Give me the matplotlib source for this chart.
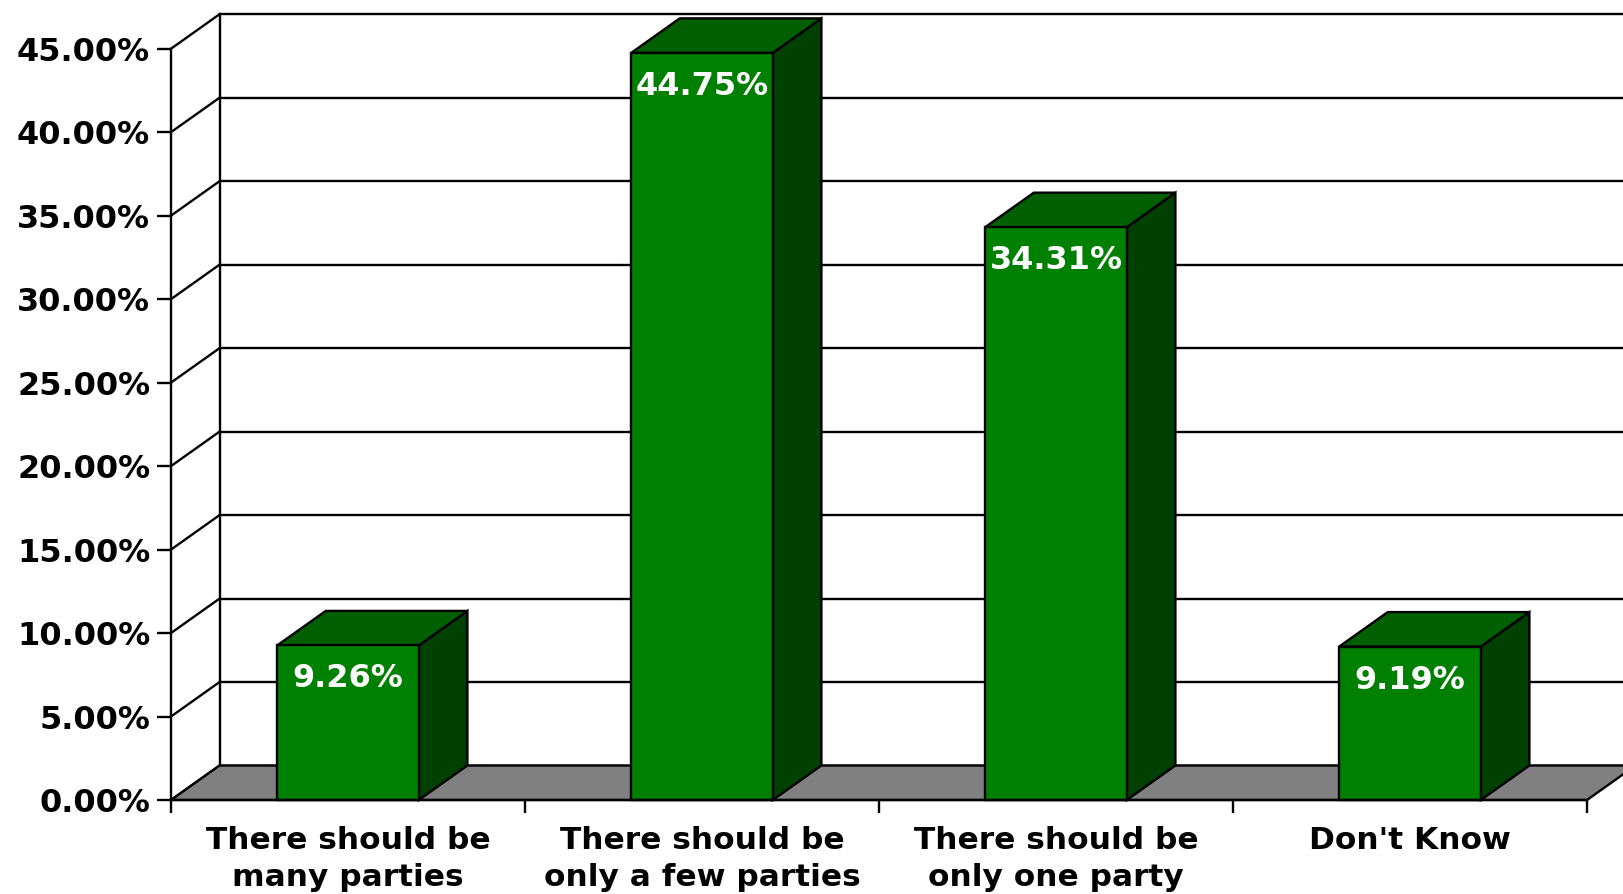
import matplotlib
matplotlib.use("Agg")
import matplotlib.pyplot as plt
from matplotlib.patches import Polygon
from matplotlib.ticker import FuncFormatter, FixedLocator

categories = ["There should be\nmany parties", "There should be\nonly a few parties",
              "There should be\nonly one party", "Don't Know"]
values = [9.26, 44.75, 34.31, 9.19]
yticks = [0, 5, 10, 15, 20, 25, 30, 35, 40, 45]

W, H = 1624, 894
fig = plt.figure(figsize=(W / 100, H / 100), dpi=100)
fig.patch.set_facecolor("white")
ax = fig.add_axes([171 / W, 94 / H, (1587 - 171) / W, (800 - 48.7) / H])
ax.set_xlim(-0.5, len(categories) - 0.5)
ax.set_ylim(0, 45)
ax.patch.set_alpha(0)

dx = 48.6 / 354.0           # depth offset in x data units
dy = 34.5 / (751.3 / 45.0)  # depth offset in y data units
bw = 0.4
lw = 1.7
x0, x1 = -0.5, len(categories) - 0.5

front_c = "#008000"
top_c = "#005f00"
side_c = "#004000"
floor_c = "#808080"

# back wall gridlines and side-wall diagonals
for t in yticks:
    ax.plot([x0 + dx, x1 + dx + 1], [t + dy, t + dy], color="black", lw=lw, clip_on=False, zorder=1)
    ax.plot([x0, x0 + dx], [t, t + dy], color="black", lw=lw, clip_on=False, zorder=1)
ax.plot([x0 + dx, x0 + dx], [dy, yticks[-1] + dy], color="black", lw=lw, clip_on=False, zorder=1)

# floor
floor = Polygon([(x0, 0), (x1, 0), (x1 + dx, dy), (x0 + dx, dy)], closed=True,
                facecolor=floor_c, edgecolor="black", lw=lw, clip_on=False, zorder=2)
ax.add_patch(floor)

# bars
for i, v in enumerate(values):
    l, r = i - bw / 2, i + bw / 2
    front = Polygon([(l, 0), (r, 0), (r, v), (l, v)], closed=True,
                    facecolor=front_c, edgecolor="black", lw=lw, clip_on=False, zorder=4)
    top = Polygon([(l, v), (r, v), (r + dx, v + dy), (l + dx, v + dy)], closed=True,
                  facecolor=top_c, edgecolor="black", lw=lw, clip_on=False, zorder=3)
    side = Polygon([(r, 0), (r + dx, dy), (r + dx, v + dy), (r, v)], closed=True,
                   facecolor=side_c, edgecolor="black", lw=lw, clip_on=False, zorder=3)
    for p in (side, top, front):
        ax.add_patch(p)
    ax.annotate(f"{v:.2f}%", xy=(i, v), xytext=(0, -13), textcoords="offset points",
                ha="center", va="top", color="white", fontsize=23, fontweight="bold",
                zorder=6, annotation_clip=False)

# axes styling
for s in ("top", "right"):
    ax.spines[s].set_visible(False)
ax.spines["left"].set_linewidth(lw)
ax.spines["bottom"].set_linewidth(lw)
ax.spines["left"].set_zorder(5)
ax.spines["bottom"].set_zorder(5)

ax.yaxis.set_major_locator(FixedLocator(yticks))
ax.yaxis.set_major_formatter(FuncFormatter(lambda y, p: f"{y:.2f}%"))
ax.tick_params(axis="y", direction="out", length=10, width=lw, pad=5,
               labelsize=23, colors="black")
for lab in ax.get_yticklabels():
    lab.set_fontweight("bold")

ax.set_xticks(range(len(categories)))
ax.set_xticklabels(categories, fontsize=22.5, fontweight="bold", linespacing=1.35)
ax.tick_params(axis="x", which="major", length=0, pad=19)
ax.set_xticks([k - 0.5 for k in range(len(categories) + 1)], minor=True)
ax.tick_params(axis="x", which="minor", direction="out", length=9, width=lw)

fig.savefig("out.png", dpi=100, facecolor="white")
